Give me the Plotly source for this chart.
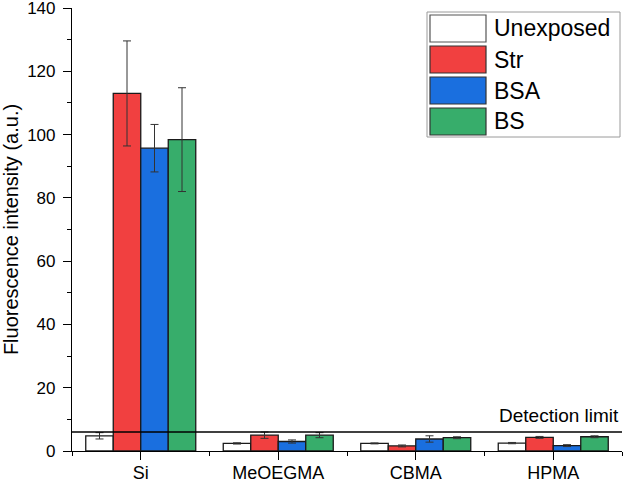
import plotly.graph_objects as go

categories = ["Si", "MeOEGMA", "CBMA", "HPMA"]
series_names = ["Unexposed", "Str", "BSA", "BS"]
unexposed = [4.8, 2.4, 2.4, 2.5]
unexposed_err = [1.0, 0.2, 0.15, 0.2]
strep = [113.0, 5.0, 1.6, 4.3]
strep_err = [16.6, 1.0, 0.3, 0.3]
bsa = [95.7, 3.0, 3.8, 1.7]
bsa_err = [7.5, 0.5, 1.0, 0.3]
bs = [98.4, 5.0, 4.2, 4.5]
bs_err = [16.4, 0.8, 0.3, 0.3]
detection_limit = 6.0
y_ticks = [0, 20, 40, 60, 80, 100, 120, 140]

colors = ["#FFFFFF", "#F14040", "#1A6FDF", "#37AD6B"]
values = [unexposed, strep, bsa, bs]
errors = [unexposed_err, strep_err, bsa_err, bs_err]

FONT = "Liberation Sans, Arial, sans-serif"
xpos = list(range(len(categories)))

fig = go.Figure()
for name, vals, errs, col in zip(series_names, values, errors, colors):
    fig.add_trace(go.Bar(
        x=xpos, y=vals, name=name,
        marker=dict(color=col, line=dict(color="#1a1a1a", width=1.3)),
        error_y=dict(type="data", array=errs, visible=True,
                     color="#333333", thickness=1, width=4),
        showlegend=False,
    ))

# detection limit line and label
fig.add_shape(type="line", xref="paper", x0=0, x1=1, yref="y",
              y0=detection_limit, y1=detection_limit,
              line=dict(color="black", width=1.5))
fig.add_annotation(xref="paper", x=0.998, yref="y", y=detection_limit,
                   text="Detection limit", showarrow=False,
                   xanchor="right", yanchor="bottom", yshift=4,
                   font=dict(family=FONT, size=19, color="black"))

# custom legend (Origin style)
W, H, L, T = 550.0, 443.0, 72.0, 8.0
def px(x):
    return (x - L) / W
def py(y):
    return (H + T - y) / H

fig.add_shape(type="rect", xref="paper", yref="paper",
              x0=px(427), x1=px(620), y0=py(137), y1=py(12),
              line=dict(color="#9a9a9a", width=1), fillcolor="white")
row_top, row_h, pitch = 15, 27, 31
for i, (name, col) in enumerate(zip(series_names, colors)):
    y0 = row_top + i * pitch
    fig.add_shape(type="rect", xref="paper", yref="paper",
                  x0=px(430), x1=px(486), y0=py(y0 + row_h), y1=py(y0),
                  line=dict(color="#333333" if i else "#555555", width=1.2),
                  fillcolor=col)
    fig.add_annotation(xref="paper", yref="paper", x=px(492),
                       y=py(y0 + row_h / 2), text=name, showarrow=False,
                       xanchor="left", yanchor="middle",
                       font=dict(family=FONT, size=23, color="black"))

fig.update_layout(
    width=624, height=482,
    margin=dict(l=72, r=2, t=8, b=31),
    paper_bgcolor="white", plot_bgcolor="white",
    barmode="group", bargap=0.2, bargroupgap=0,
    font=dict(family=FONT, size=17, color="black"),
    xaxis=dict(
        range=[-0.5, 3.5], tickmode="array", tickvals=xpos, ticktext=categories,
        automargin=False, ticklabeloverflow="allow",
        showgrid=False, zeroline=False, showline=True, linecolor="black",
        linewidth=1.2, ticks="outside", ticklen=8, tickwidth=1.2,
        tickcolor="black", tickfont=dict(size=18, family=FONT),
        ticklabelstandoff=-3,
        minor=dict(tickmode="array", tickvals=[-0.5, 0.5, 1.5, 2.5, 3.5],
                   ticks="outside", ticklen=4, tickwidth=1.2,
                   tickcolor="black", showgrid=False),
    ),
    yaxis=dict(
        range=[0, 140], tickmode="array", tickvals=y_ticks,
        automargin=False, ticklabeloverflow="allow",
        showgrid=False, zeroline=False,
        showline=True, linecolor="black", linewidth=1.2,
        ticks="outside", ticklen=8, tickwidth=1.2, tickcolor="black",
        tickfont=dict(size=17, family=FONT), ticklabelstandoff=4,
        minor=dict(tickmode="array", tickvals=[10, 30, 50, 70, 90, 110, 130],
                   ticks="outside", ticklen=4, tickwidth=1.2,
                   tickcolor="black", showgrid=False),
        title=dict(text="Fluorescence intensity (a.u.)",
                   font=dict(size=20, family=FONT), standoff=6),
    ),
)

fig.write_html("out.html", config={"displayModeBar": False},
               post_script="document.body.style.margin='0';document.body.style.overflow='hidden';")
